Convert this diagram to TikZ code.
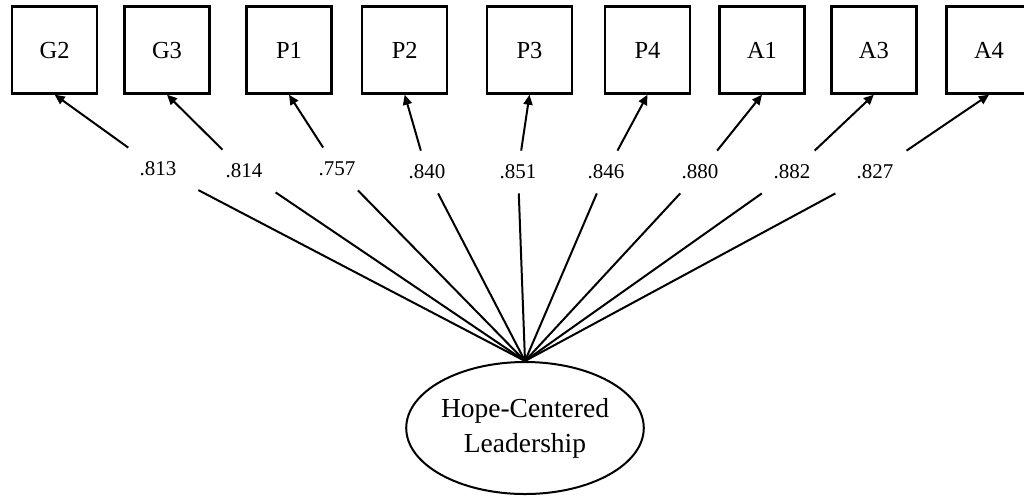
\documentclass[tikz,border=0pt]{standalone}
\usepackage{fontspec}
\setmainfont{Liberation Serif}
\usetikzlibrary{shapes.geometric,arrows.meta}

\begin{document}
\begin{tikzpicture}[x=0.5pt, y=-0.5pt,
	indikator/.style={draw, line width=1.2pt, minimum width=42.5pt,
	minimum height=43.5pt, inner sep=0pt, font=\fontsize{12.25}{14}\selectfont},
	ladung/.style={minimum width=40pt, minimum height=21pt, inner sep=0pt,
	font=\fontsize{10.5}{12}\selectfont},
	faktor/.style={draw, ellipse, line width=1pt, minimum width=117pt,
	minimum height=66pt, inner sep=0pt, align=center,
	font=\fontsize{13.75}{17.5}\selectfont},
	pfeil/.style={line width=1pt, -{Triangle[length=5pt,width=4.5pt]}}]
	\useasboundingbox (0,0) rectangle (1024,495);
	% Faktor unten
	\node[faktor] (hcl) at (525,428) {Hope-Centered\\Leadership};
	% Indikatoren oben mit Ladungen
	\foreach \name/\x/\lx/\ly/\wert in {G2/54.7/158/169/.813,
		G3/167/244/171/.814, P1/289/337/169/.757, P2/404.7/427/172/.840,
		P3/529.5/518/172/.851, P4/647.5/606/172/.846, A1/762/700/172/.880,
		A3/873.8/792/172/.882, A4/989/875/172/.827}
	{
		\node[indikator] (\name) at (\x,50) {\name};
		\node[ladung] (l\name) at (\lx,\ly) {\wert};
		\draw[line width=1pt] (hcl.north) -- (l\name);
		\draw[pfeil] (l\name) -- (\name.south);
	}
\end{tikzpicture}
\end{document}
